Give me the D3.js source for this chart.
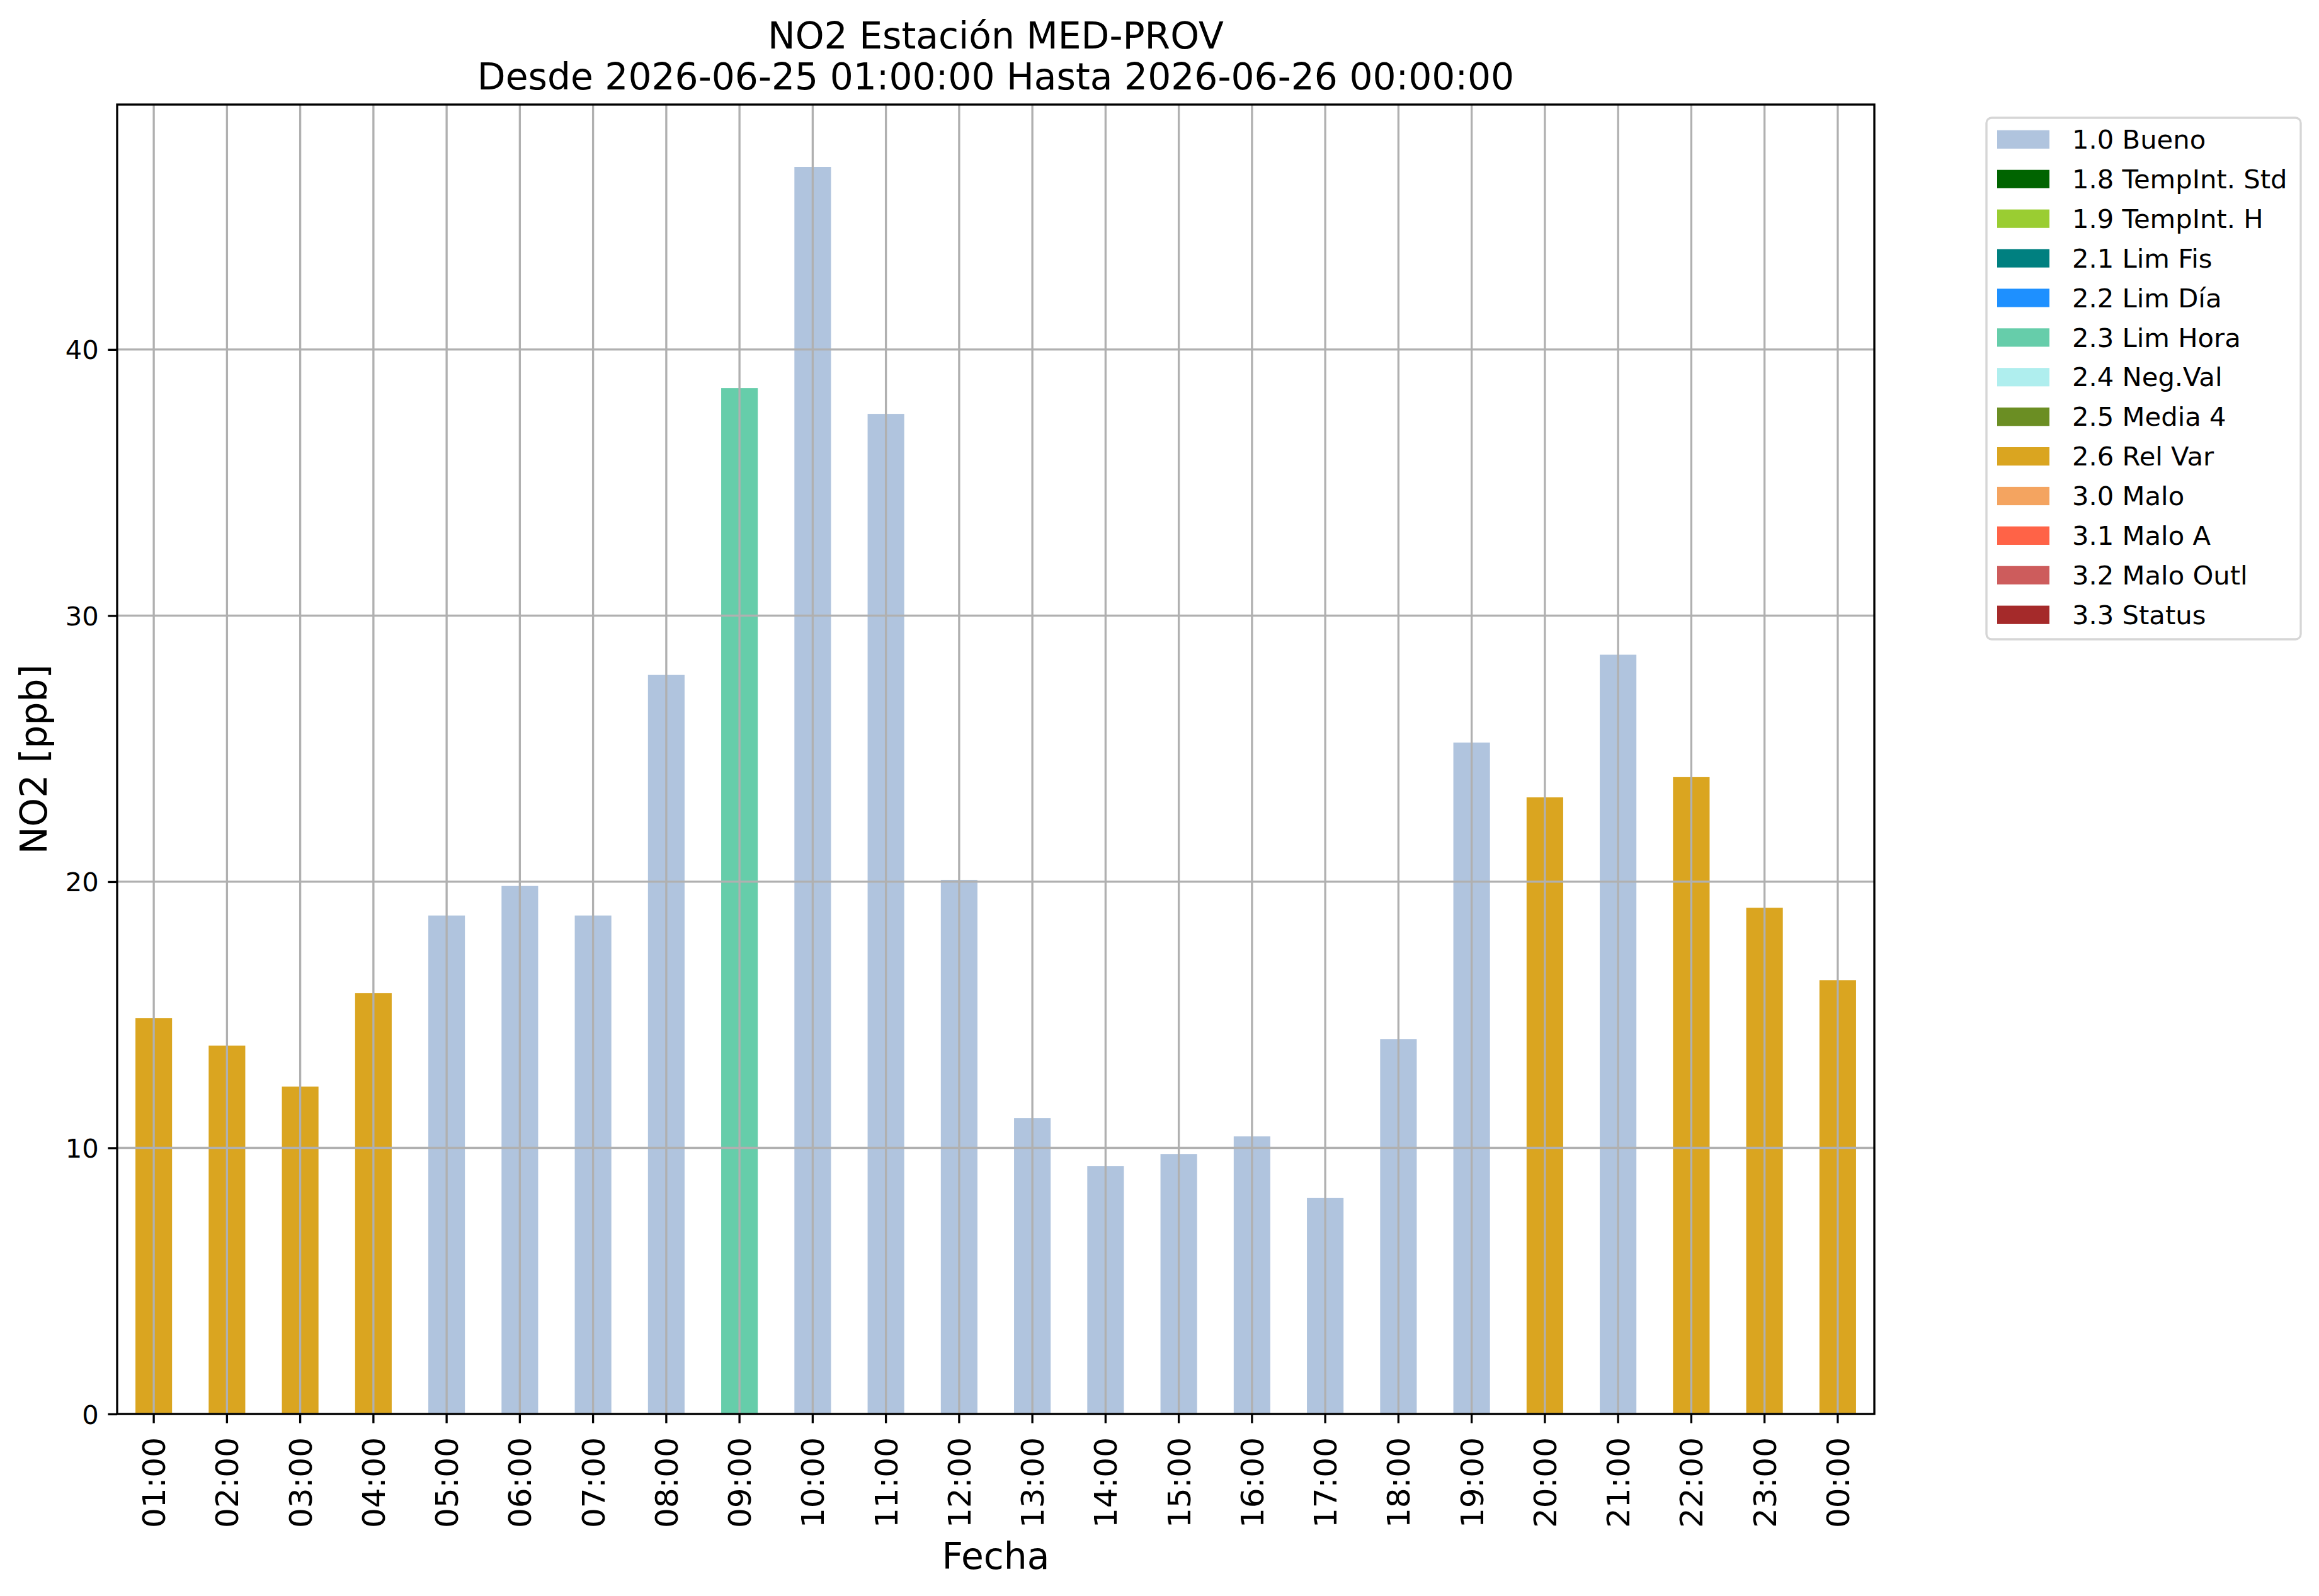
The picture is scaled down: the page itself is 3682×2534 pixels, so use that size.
<!DOCTYPE html>
<html>
<head>
<meta charset="utf-8">
<script src="https://cdn.jsdelivr.net/npm/d3@7"></script>
<style>
  body { margin: 0; background: white; }
  svg { display: block; font-family: "DejaVu Sans", sans-serif; }
</style>
</head>
<body>
<svg width="3682" height="2534"></svg>
<script>
// hourly NO2 readings, 2026-06-25 01:00 .. 2026-06-26 00:00
const hours = ["01:00", "02:00", "03:00", "04:00", "05:00", "06:00", "07:00", "08:00",
               "09:00", "10:00", "11:00", "12:00", "13:00", "14:00", "15:00", "16:00",
               "17:00", "18:00", "19:00", "20:00", "21:00", "22:00", "23:00", "00:00"]
const no2 = [14.88, 13.84, 12.30, 15.81, 18.73, 19.84, 18.73, 27.77,
             38.55, 46.86, 37.58, 20.07, 11.12, 9.32, 9.77, 10.43,
             8.12, 14.08, 25.23, 23.17, 28.53, 23.93, 19.02, 16.30]
const flags = ["2.6", "2.6", "2.6", "2.6", "1.0", "1.0", "1.0", "1.0",
               "2.3", "1.0", "1.0", "1.0", "1.0", "1.0", "1.0", "1.0",
               "1.0", "1.0", "1.0", "2.6", "1.0", "2.6", "2.6", "2.6"]

// validation flag legend
const flagCodes = ["1.0", "1.8", "1.9", "2.1", "2.2", "2.3", "2.4", "2.5", "2.6", "3.0", "3.1", "3.2", "3.3"]
const flagNames = ["Bueno", "TempInt. Std", "TempInt. H", "Lim Fis", "Lim Día", "Lim Hora",
                   "Neg.Val", "Media 4", "Rel Var", "Malo", "Malo A", "Malo Outl", "Status"]
const flagColors = ["#b0c4de", "#006400", "#9acd32", "#008080", "#1e90ff", "#66cdaa",
                    "#afeeee", "#6b8e23", "#daa520", "#f4a460", "#ff6347", "#cd5c5c", "#a52a2a"]

const yTicks = [0, 10, 20, 30, 40]

const plot = { left: 186, right: 2976, top: 166, bottom: 2245 }
const lw = 3.33 // 0.8pt at 300dpi
const gridColor = "#b0b0b0"

var svg = d3.select("svg")

let x = d3.scaleBand()
  .domain(hours)
  .range([plot.left, plot.right])
  .paddingInner(0.5)
  .paddingOuter(0.25)

let y = d3.scaleLinear()
  .domain([0, d3.max(no2) * 1.05])
  .range([plot.bottom, plot.top])

let color = d3.scaleOrdinal()
  .domain(flagCodes)
  .range(flagColors)

// bars
svg.append("g")
  .selectAll("rect")
  .data(hours)
  .join("rect")
    .attr("x", d => x(d))
    .attr("width", x.bandwidth())
    .attr("y", (d, i) => y(no2[i]))
    .attr("height", (d, i) => y(0) - y(no2[i]))
    .style("fill", (d, i) => color(flags[i]))

// grid sits on top of the bars, like matplotlib's default
let grid = svg.append("g")
grid.selectAll("line.v")
  .data(hours)
  .join("line")
    .attr("class", "v")
    .attr("x1", d => x(d) + x.bandwidth() / 2)
    .attr("x2", d => x(d) + x.bandwidth() / 2)
    .attr("y1", plot.top)
    .attr("y2", plot.bottom)
    .style("stroke", gridColor)
    .style("stroke-width", lw)
grid.selectAll("line.h")
  .data(yTicks)
  .join("line")
    .attr("class", "h")
    .attr("x1", plot.left)
    .attr("x2", plot.right)
    .attr("y1", d => y(d))
    .attr("y2", d => y(d))
    .style("stroke", gridColor)
    .style("stroke-width", lw)

// spines
svg.append("rect")
  .attr("x", plot.left)
  .attr("y", plot.top)
  .attr("width", plot.right - plot.left)
  .attr("height", plot.bottom - plot.top)
  .style("fill", "none")
  .style("stroke", "black")
  .style("stroke-width", lw)

// y axis
let yAxis = svg.append("g")
  .attr("transform", "translate(" + plot.left + ",0)")
  .call(d3.axisLeft(y).tickValues(yTicks).tickSize(14.6).tickPadding(14.6).tickFormat(d3.format("d")))
yAxis.select(".domain").remove()
yAxis.selectAll("line").style("stroke", "black").style("stroke-width", lw)
yAxis.selectAll("text")
  .attr("dy", "0.36em")
  .style("font-size", "41.7px")
  .style("font-family", "DejaVu Sans")
  .style("fill", "black")

// x axis, labels turned 90 degrees
let xAxis = svg.append("g")
  .attr("transform", "translate(0," + plot.bottom + ")")
  .call(d3.axisBottom(x).tickSize(14.6))
xAxis.select(".domain").remove()
xAxis.selectAll("line").style("stroke", "black").style("stroke-width", lw)
xAxis.selectAll("text")
  .attr("transform", "rotate(-90)")
  .attr("x", -37)
  .attr("y", 0)
  .attr("dy", "0.36em")
  .attr("text-anchor", "end")
  .style("font-size", "50px")
  .style("font-family", "DejaVu Sans")
  .style("fill", "black")

// titles
let midX = (plot.left + plot.right) / 2
let title = svg.append("text")
  .attr("text-anchor", "middle")
  .style("font-size", "58.3px")
title.append("tspan").attr("x", midX).attr("y", 76.5).text("NO2 Estación MED-PROV")
title.append("tspan").attr("x", midX).attr("y", 141.6).text("Desde 2026-06-25 01:00:00 Hasta 2026-06-26 00:00:00")

svg.append("text")
  .attr("x", midX)
  .attr("y", 2491)
  .attr("text-anchor", "middle")
  .style("font-size", "58.3px")
  .text("Fecha")

svg.append("text")
  .attr("transform", "translate(74," + (plot.top + plot.bottom) / 2 + ") rotate(-90)")
  .attr("text-anchor", "middle")
  .style("font-size", "58.3px")
  .text("NO2 [ppb]")

// legend
const rowStep = 62.9
let legend = svg.append("g")
legend.append("rect")
  .attr("x", 3154)
  .attr("y", 187)
  .attr("width", 499)
  .attr("height", 828)
  .attr("rx", 8.3)
  .style("fill", "white")
  .style("stroke", "#d6d6d6")
  .style("stroke-width", lw)

let rows = legend.selectAll("g.row")
  .data(flagCodes)
  .join("g")
    .attr("class", "row")
    .attr("transform", (d, i) => "translate(0," + (206.8 + i * rowStep) + ")")
rows.append("rect")
  .attr("x", 3171)
  .attr("y", 0)
  .attr("width", 83)
  .attr("height", 29.2)
  .style("fill", d => color(d))
rows.append("text")
  .attr("x", 3290)
  .attr("y", 29.2)
  .style("font-size", "41.7px")
  .text((d, i) => d + " " + flagNames[i])
</script>
</body>
</html>
